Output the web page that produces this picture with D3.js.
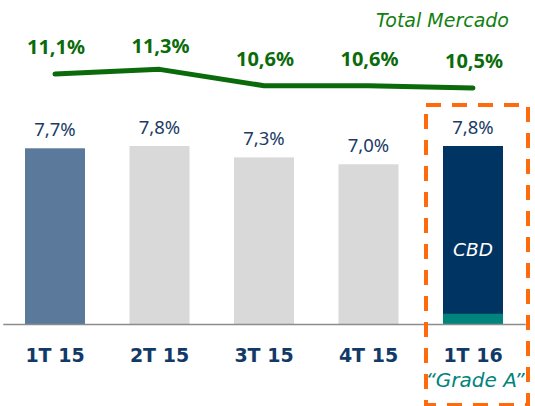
<!DOCTYPE html>
<html>
<head>
<meta charset="utf-8">
<script src="https://cdn.jsdelivr.net/npm/d3@7"></script>
<style>
  body { margin: 0; background: #fff; }
  svg { display: block; font-family: "DejaVu Sans", Verdana, sans-serif; }
</style>
</head>
<body>
<script>
// data
var quarters = ['1T 15', '2T 15', '3T 15', '4T 15', '1T 16']
var vacancy = [7.7, 7.8, 7.3, 7.0, 7.8]        // bars (CBD)
var gradeAPart = [0, 0, 0, 0, 0.45]            // teal strip at bottom of last bar
var totalMercado = [11.1, 11.3, 10.6, 10.6, 10.5]

var width = 535, height = 406
var baseY = 324

var fmt = function(v) { return v.toFixed(1).replace('.', ',') + '%' }

var svg = d3.select('body').append('svg')
  .attr('width', width)
  .attr('height', height)

// scales
var x = d3.scaleBand()
  .domain(quarters)
  .range([2.75, 525.25])
  .paddingInner(0.426)
  .paddingOuter(0.213)

var y = d3.scaleLinear().domain([0, 8]).range([baseY, baseY - 8 * 22.82])
var yLine = d3.scaleLinear().domain([0, 12]).range([333, 333 - 12 * 23.33])

var bw = x.bandwidth()
var last = quarters.length - 1

// bars
svg.selectAll('.bar')
  .data(vacancy)
  .enter().append('rect')
  .attr('class', 'bar')
  .attr('x', function(d, i) { return x(quarters[i]) })
  .attr('width', bw)
  .attr('y', function(d) { return y(d) })
  .attr('height', function(d) { return y(0) - y(d) })
  .attr('fill', function(d, i) {
    if (i === 0) return '#5b7a9b'
    if (i === last) return '#003462'
    return '#d9d9d9'
  })

// grade A strip
svg.selectAll('.gradeA')
  .data(gradeAPart)
  .enter().append('rect')
  .attr('x', function(d, i) { return x(quarters[i]) })
  .attr('width', bw)
  .attr('y', function(d) { return y(d) })
  .attr('height', function(d) { return y(0) - y(d) })
  .attr('fill', '#00847b')

// bar labels
svg.selectAll('.barLabel')
  .data(vacancy)
  .enter().append('text')
  .attr('x', function(d, i) { return x(quarters[i]) + bw / 2 })
  .attr('y', function(d) { return y(d) - 12 })
  .attr('text-anchor', 'middle')
  .attr('font-family', '"Noto Sans", sans-serif')
  .attr('font-size', 18.5)
  .attr('fill', '#1b3b66')
  .text(fmt)

// CBD label
svg.append('text')
  .attr('x', x(quarters[last]) + bw / 2)
  .attr('y', y(vacancy[last] / 2) + 21)
  .attr('text-anchor', 'middle')
  .attr('font-size', 18.5)
  .attr('font-style', 'italic')
  .attr('fill', '#fff')
  .text('CBD')

// x axis
var xAxis = d3.axisBottom(x).tickSize(0).tickSizeOuter(0)
var gx = svg.append('g')
  .attr('transform', 'translate(0,' + baseY + ')')
  .call(xAxis)
gx.select('.domain').attr('stroke', '#8c8c8c').attr('stroke-width', 1.5)
gx.selectAll('text')
  .attr('y', 38).attr('dy', 0)
  .attr('font-family', '"DejaVu Sans", Verdana, sans-serif')
  .attr('font-size', 19)
  .attr('font-weight', 'bold')
  .attr('fill', '#123a68')

// total market line
var line = d3.line()
  .x(function(d, i) { return x(quarters[i]) + bw / 2 })
  .y(function(d) { return yLine(d) })

svg.append('path')
  .datum(totalMercado)
  .attr('d', line)
  .attr('fill', 'none')
  .attr('stroke', '#0b6b0b')
  .attr('stroke-width', 5)
  .attr('stroke-linecap', 'round')
  .attr('stroke-linejoin', 'round')

svg.selectAll('.lineLabel')
  .data(totalMercado)
  .enter().append('text')
  .attr('x', function(d, i) { return x(quarters[i]) + bw / 2 + 1 })
  .attr('y', function(d) { return Math.max(yLine(d) - 20, 53) })
  .attr('text-anchor', 'middle')
  .attr('font-family', '"Noto Sans", sans-serif')
  .attr('font-size', 20)
  .attr('font-weight', 'bold')
  .attr('fill', '#0b6b0b')
  .text(fmt)

svg.append('text')
  .attr('x', 509)
  .attr('y', 27)
  .attr('text-anchor', 'end')
  .attr('font-size', 19)
  .attr('font-style', 'italic')
  .attr('fill', '#138013')
  .text('Total Mercado')

// grade A caption + highlight box
var cx = x(quarters[last]) + bw / 2
svg.append('text')
  .attr('x', cx + 2)
  .attr('y', 387)
  .attr('text-anchor', 'middle')
  .attr('font-size', 20)
  .attr('font-style', 'italic')
  .attr('fill', '#00847b')
  .text('\u201cGrade A\u201d')

svg.append('rect')
  .attr('x', cx - 47)
  .attr('y', 105)
  .attr('width', 102)
  .attr('height', 300)
  .attr('fill', 'none')
  .attr('stroke', '#ff6a0d')
  .attr('stroke-width', 4)
  .attr('stroke-dasharray', '15,11')
</script>
</body>
</html>
